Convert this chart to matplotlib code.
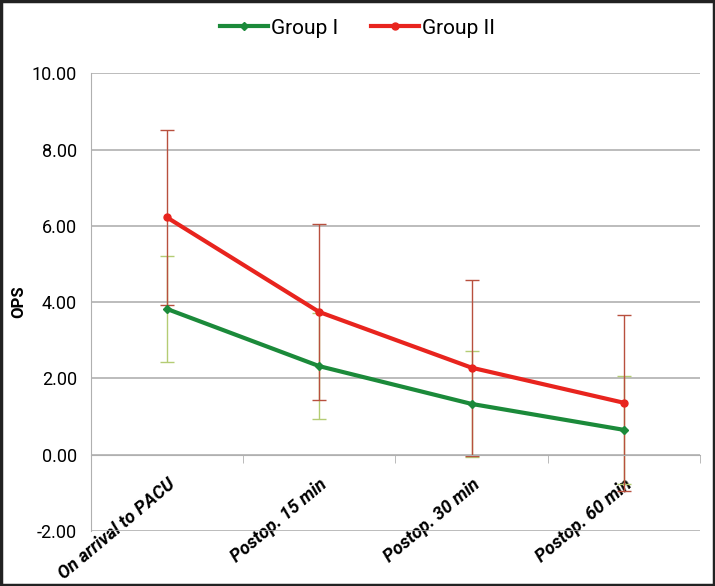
import numpy as np
import matplotlib.pyplot as plt
from matplotlib.patches import Rectangle
from matplotlib.ticker import FormatStrFormatter

categories = ['On arrival to PACU', 'Postop. 15 min', 'Postop. 30 min', 'Postop. 60 min']
group1 = [3.82, 2.32, 1.33, 0.65]
group1_err = [1.40, 1.39, 1.40, 1.41]
group2 = [6.22, 3.74, 2.28, 1.36]
group2_err = [2.30, 2.30, 2.31, 2.31]
yticks = [-2, 0, 2, 4, 6, 8, 10]

plt.rcParams['font.family'] = ['Roboto', 'DejaVu Sans']

fig = plt.figure(figsize=(7.15, 5.86), dpi=100)
ax = fig.add_axes([0.127, 0.094, 0.852, 0.781])
x = np.arange(len(categories))

ax.errorbar(x, group2, yerr=group2_err, fmt='none', ecolor='#b8503e', elinewidth=1, capsize=5, zorder=2)
ax.errorbar(x, group1, yerr=group1_err, fmt='none', ecolor='#b4cc74', elinewidth=1, capsize=5, zorder=1.5)
ax.plot(x, group1, color='#1b8a3a', lw=3, marker='D', ms=4, label='Group I', zorder=3)
ax.plot(x, group2, color='#e8241e', lw=3, marker='o', ms=5, label='Group II', zorder=3)

ax.set_xlim(-0.5, 3.5)
ax.set_ylim(-2, 10)
ax.set_yticks(yticks)
ax.yaxis.set_major_formatter(FormatStrFormatter('%.2f'))
ax.yaxis.grid(True, color='#b0b0b0', lw=1.2)
ax.set_axisbelow(True)
ax.tick_params(axis='y', length=0, labelsize=13, pad=10)
ax.set_ylabel('OPS', fontsize=12, fontweight='bold', labelpad=4)

for s in ['top', 'right']:
    ax.spines[s].set_visible(False)
ax.spines['left'].set_color('#b0b0b0')
ax.spines['bottom'].set_position(('data', 0))
ax.spines['bottom'].set_color('#b0b0b0')

ax.set_xticks(x)
ax.set_xticklabels(categories, rotation=40, ha='right', rotation_mode='anchor',
                   fontsize=13, fontweight='bold', style='italic')
ax.set_xticks(np.arange(-0.5, 4.0, 1.0), minor=True)
ax.tick_params(axis='x', which='major', length=0, pad=15)
ax.tick_params(axis='x', which='minor', length=6, color='#b0b0b0', direction='out')

fig.legend(loc='upper center', bbox_to_anchor=(0.5, 1.0), ncol=2, frameon=False,
           fontsize=15, handlelength=2.3, columnspacing=1.6, handletextpad=0.15)

fig.patches.append(Rectangle((0.002, 0.002), 0.996, 0.996, transform=fig.transFigure,
                             fill=False, edgecolor='#222222', lw=2.5))

fig.savefig('out.png', dpi=100)
